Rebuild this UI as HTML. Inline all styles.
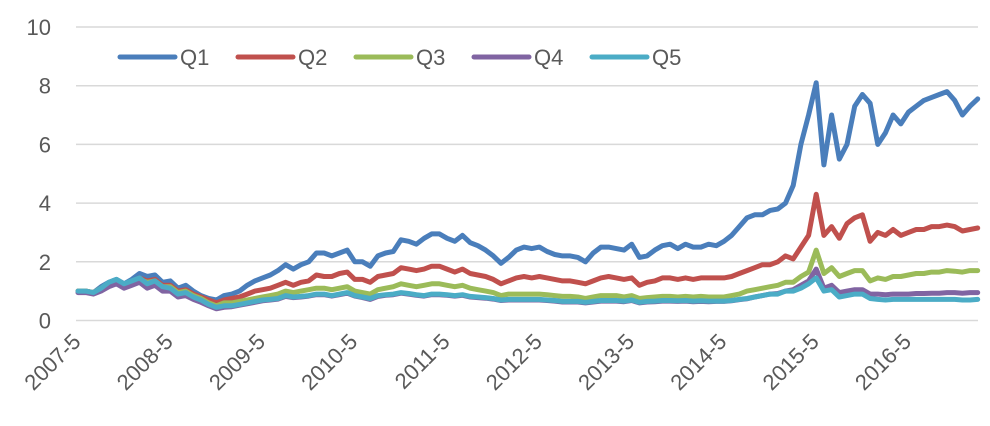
<!DOCTYPE html>
<html><head><meta charset="utf-8"><style>
html,body{margin:0;padding:0;background:#fff;}
svg{display:block;font-family:"Liberation Sans",sans-serif;}
</style></head><body>
<svg id="chart" width="990" height="426"></svg>
<script>
const categoriesStart = [2007, 5];
const tickLabels = ["2007-5","2008-5","2009-5","2010-5","2011-5","2012-5","2013-5","2014-5","2015-5","2016-5"];
const yTicks = [0,2,4,6,8,10];
const seriesNames = ["Q1","Q2","Q3","Q4","Q5"];
const q1 = [1.0,1.0,0.95,1.15,1.3,1.4,1.25,1.4,1.6,1.5,1.55,1.3, 1.35,1.1,1.2,1.0,0.85,0.75,0.7,0.85,0.9,1.0,1.2,1.35, 1.45,1.55,1.7,1.9,1.75,1.9,2.0,2.3,2.3,2.2,2.3,2.4, 2.0,2.0,1.85,2.2,2.3,2.35,2.75,2.7,2.6,2.8,2.95,2.95, 2.8,2.7,2.9,2.65,2.55,2.4,2.2,1.95,2.15,2.4,2.5,2.45, 2.5,2.35,2.25,2.2,2.2,2.15,2.0,2.3,2.5,2.5,2.45,2.4, 2.6,2.15,2.2,2.4,2.55,2.6,2.45,2.6,2.5,2.5,2.6,2.55, 2.7,2.9,3.2,3.5,3.6,3.6,3.75,3.8,4.0,4.6,6.0,7.0, 8.1,5.3,7.0,5.5,6.0,7.3,7.7,7.4,6.0,6.4,7.0,6.7, 7.1,7.3,7.5,7.6,7.7,7.8,7.5,7.0,7.3,7.55];
const q2 = [1.0,1.0,0.95,1.1,1.25,1.35,1.2,1.3,1.45,1.35,1.4,1.2, 1.2,1.0,1.05,0.9,0.8,0.7,0.6,0.7,0.75,0.8,0.9,1.0, 1.05,1.1,1.2,1.3,1.2,1.3,1.35,1.55,1.5,1.5,1.6,1.65, 1.4,1.4,1.3,1.5,1.55,1.6,1.8,1.75,1.7,1.75,1.85,1.85, 1.75,1.65,1.75,1.6,1.55,1.5,1.4,1.25,1.35,1.45,1.5,1.45, 1.5,1.45,1.4,1.35,1.35,1.3,1.25,1.35,1.45,1.5,1.45,1.4, 1.45,1.2,1.3,1.35,1.45,1.45,1.4,1.45,1.4,1.45,1.45,1.45, 1.45,1.5,1.6,1.7,1.8,1.9,1.9,2.0,2.2,2.1,2.5,2.9, 4.3,2.9,3.2,2.8,3.3,3.5,3.6,2.7,3.0,2.9,3.1,2.9, 3.0,3.1,3.1,3.2,3.2,3.25,3.2,3.05,3.1,3.15];
const q3 = [1.0,1.0,0.95,1.1,1.25,1.3,1.2,1.25,1.4,1.3,1.35,1.15, 1.15,0.95,1.0,0.85,0.75,0.6,0.5,0.6,0.6,0.65,0.7,0.75, 0.8,0.85,0.9,1.0,0.95,1.0,1.05,1.1,1.1,1.05,1.1,1.15, 1.0,0.95,0.9,1.05,1.1,1.15,1.25,1.2,1.15,1.2,1.25,1.25, 1.2,1.15,1.2,1.1,1.05,1.0,0.95,0.85,0.9,0.9,0.9,0.9, 0.9,0.88,0.85,0.82,0.82,0.8,0.75,0.8,0.85,0.85,0.85,0.8, 0.85,0.75,0.78,0.8,0.82,0.82,0.8,0.82,0.8,0.82,0.8,0.8, 0.8,0.85,0.9,1.0,1.05,1.1,1.15,1.2,1.3,1.3,1.5,1.65, 2.4,1.6,1.8,1.5,1.6,1.7,1.7,1.35,1.45,1.4,1.5,1.5, 1.55,1.6,1.6,1.65,1.65,1.7,1.68,1.65,1.7,1.7];
const q4 = [0.95,0.95,0.9,1.0,1.15,1.25,1.1,1.2,1.3,1.1,1.2,1.0, 1.0,0.8,0.85,0.72,0.62,0.5,0.4,0.45,0.47,0.52,0.57,0.62, 0.67,0.7,0.73,0.82,0.78,0.8,0.83,0.88,0.88,0.83,0.88,0.93, 0.83,0.78,0.72,0.82,0.86,0.88,0.93,0.9,0.86,0.83,0.88,0.88, 0.86,0.83,0.86,0.8,0.78,0.76,0.73,0.68,0.7,0.7,0.7,0.7, 0.7,0.68,0.66,0.63,0.63,0.63,0.6,0.63,0.66,0.66,0.66,0.64, 0.68,0.6,0.63,0.64,0.66,0.66,0.65,0.66,0.64,0.65,0.64,0.65, 0.65,0.67,0.71,0.74,0.8,0.85,0.9,0.92,1.0,1.05,1.2,1.35, 1.75,1.1,1.2,0.95,1.0,1.05,1.05,0.9,0.9,0.88,0.9,0.9, 0.9,0.92,0.92,0.93,0.93,0.95,0.95,0.93,0.95,0.95];
const q5 = [1.0,1.0,0.95,1.1,1.3,1.4,1.25,1.35,1.45,1.25,1.35,1.15, 1.1,0.9,0.95,0.8,0.7,0.55,0.45,0.5,0.5,0.55,0.6,0.65, 0.7,0.72,0.75,0.85,0.8,0.82,0.85,0.9,0.9,0.85,0.9,0.95, 0.85,0.8,0.75,0.85,0.88,0.9,0.95,0.92,0.88,0.85,0.9,0.9, 0.88,0.85,0.88,0.82,0.8,0.78,0.75,0.7,0.72,0.72,0.72,0.72, 0.72,0.7,0.68,0.65,0.65,0.65,0.62,0.65,0.68,0.68,0.68,0.66, 0.7,0.62,0.65,0.66,0.68,0.68,0.67,0.68,0.66,0.67,0.66,0.66, 0.66,0.68,0.72,0.75,0.8,0.85,0.9,0.9,1.0,1.0,1.1,1.25, 1.45,1.0,1.05,0.8,0.85,0.9,0.9,0.75,0.72,0.7,0.72,0.72, 0.72,0.72,0.72,0.72,0.72,0.72,0.72,0.7,0.7,0.72];
const seriesColors = ["#4a7ebb","#c0504d","#9bbb59","#8064a2","#4bacc6"];

const NS = "http://www.w3.org/2000/svg";
const svg = document.getElementById("chart");
const X0 = 78, PXM = 7.69, Y0 = 320.5, PXU = 29.35;
function xs(m){ return X0 + m*PXM; }
function ys(v){ return Y0 - v*PXU; }
function mk(tag, attrs){ const e=document.createElementNS(NS,tag); for(const k in attrs) e.setAttribute(k,attrs[k]); svg.appendChild(e); return e; }

yTicks.forEach(t=>{
  const g = mk("line",{x1:76,x2:978,y1:ys(t),y2:ys(t),stroke:"#d9d9d9","stroke-width":1.5});
  
  
  const tx = mk("text",{x:51,y:ys(t)+8,"text-anchor":"end","font-size":22,fill:"#595959"});
  tx.textContent = t;
  
  
});
tickLabels.forEach((lab,i)=>{
  const m = i*12, x = xs(m)+4, y = 343;
  const tx = mk("text",{x:x,y:y,"text-anchor":"end","font-size":22,fill:"#595959",transform:"rotate(-45 "+x+" "+y+")"});
  tx.textContent = lab;
  
  
});
[q1,q2,q3,q4,q5].forEach((arr,si)=>{
  const d = arr.map((v,i)=>(i?"L":"M")+xs(i).toFixed(1)+" "+ys(v).toFixed(1)).join(" ");
  const p = mk("path",{d:d,fill:"none",stroke:seriesColors[si],"stroke-width":5,"stroke-linejoin":"round","stroke-linecap":"round"});
  
  
});
seriesNames.forEach((n,i)=>{
  const lx = 120 + i*118;
  const l = mk("line",{x1:lx,x2:lx+55,y1:57,y2:57,stroke:seriesColors[i],"stroke-width":5,"stroke-linecap":"round"});
  
  
  const t = mk("text",{x:lx+60,y:65,"font-size":22,fill:"#595959"});
  t.textContent = n;
  
  
});
</script>
</body></html>
